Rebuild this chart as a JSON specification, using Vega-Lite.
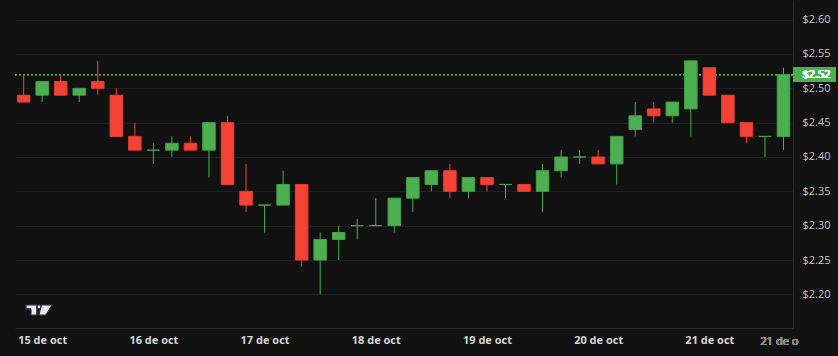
{
  "$schema": "https://vega.github.io/schema/vega-lite/v6.json",
  "width": 778,
  "height": 328,
  "autosize": "none",
  "padding": {"left": 15, "top": 0, "right": 45, "bottom": 28},
  "background": "#111111",
  "config": {
    "view": {"stroke": null},
    "axis": {"title": null, "ticks": false, "domainColor": "#2a2a2a", "labelFont": "Open Sans"}
  },
  "data": {
    "values": [
      {"t": "2024-10-14T20:00:00Z", "open": 2.49, "high": 2.52, "low": 2.48, "close": 2.48},
      {"t": "2024-10-15T00:00:00Z", "open": 2.49, "high": 2.51, "low": 2.48, "close": 2.51},
      {"t": "2024-10-15T04:00:00Z", "open": 2.51, "high": 2.52, "low": 2.49, "close": 2.49},
      {"t": "2024-10-15T08:00:00Z", "open": 2.49, "high": 2.50, "low": 2.48, "close": 2.50},
      {"t": "2024-10-15T12:00:00Z", "open": 2.51, "high": 2.54, "low": 2.49, "close": 2.50},
      {"t": "2024-10-15T16:00:00Z", "open": 2.49, "high": 2.50, "low": 2.43, "close": 2.43},
      {"t": "2024-10-15T20:00:00Z", "open": 2.43, "high": 2.45, "low": 2.41, "close": 2.41},
      {"t": "2024-10-16T00:00:00Z", "open": 2.41, "high": 2.42, "low": 2.39, "close": 2.41},
      {"t": "2024-10-16T04:00:00Z", "open": 2.41, "high": 2.43, "low": 2.40, "close": 2.42},
      {"t": "2024-10-16T08:00:00Z", "open": 2.42, "high": 2.43, "low": 2.41, "close": 2.41},
      {"t": "2024-10-16T12:00:00Z", "open": 2.41, "high": 2.45, "low": 2.37, "close": 2.45},
      {"t": "2024-10-16T16:00:00Z", "open": 2.45, "high": 2.46, "low": 2.36, "close": 2.36},
      {"t": "2024-10-16T20:00:00Z", "open": 2.35, "high": 2.39, "low": 2.32, "close": 2.33},
      {"t": "2024-10-17T00:00:00Z", "open": 2.33, "high": 2.33, "low": 2.29, "close": 2.33},
      {"t": "2024-10-17T04:00:00Z", "open": 2.33, "high": 2.38, "low": 2.33, "close": 2.36},
      {"t": "2024-10-17T08:00:00Z", "open": 2.36, "high": 2.36, "low": 2.24, "close": 2.25},
      {"t": "2024-10-17T12:00:00Z", "open": 2.25, "high": 2.29, "low": 2.20, "close": 2.28},
      {"t": "2024-10-17T16:00:00Z", "open": 2.28, "high": 2.30, "low": 2.25, "close": 2.29},
      {"t": "2024-10-17T20:00:00Z", "open": 2.30, "high": 2.31, "low": 2.28, "close": 2.30},
      {"t": "2024-10-18T00:00:00Z", "open": 2.30, "high": 2.34, "low": 2.30, "close": 2.30},
      {"t": "2024-10-18T04:00:00Z", "open": 2.30, "high": 2.34, "low": 2.29, "close": 2.34},
      {"t": "2024-10-18T08:00:00Z", "open": 2.34, "high": 2.37, "low": 2.32, "close": 2.37},
      {"t": "2024-10-18T12:00:00Z", "open": 2.36, "high": 2.38, "low": 2.35, "close": 2.38},
      {"t": "2024-10-18T16:00:00Z", "open": 2.38, "high": 2.39, "low": 2.34, "close": 2.35},
      {"t": "2024-10-18T20:00:00Z", "open": 2.35, "high": 2.37, "low": 2.34, "close": 2.37},
      {"t": "2024-10-19T00:00:00Z", "open": 2.37, "high": 2.37, "low": 2.35, "close": 2.36},
      {"t": "2024-10-19T04:00:00Z", "open": 2.36, "high": 2.36, "low": 2.34, "close": 2.36},
      {"t": "2024-10-19T08:00:00Z", "open": 2.36, "high": 2.36, "low": 2.35, "close": 2.35},
      {"t": "2024-10-19T12:00:00Z", "open": 2.35, "high": 2.39, "low": 2.32, "close": 2.38},
      {"t": "2024-10-19T16:00:00Z", "open": 2.38, "high": 2.41, "low": 2.37, "close": 2.40},
      {"t": "2024-10-19T20:00:00Z", "open": 2.40, "high": 2.41, "low": 2.39, "close": 2.40},
      {"t": "2024-10-20T00:00:00Z", "open": 2.40, "high": 2.41, "low": 2.39, "close": 2.39},
      {"t": "2024-10-20T04:00:00Z", "open": 2.39, "high": 2.43, "low": 2.36, "close": 2.43},
      {"t": "2024-10-20T08:00:00Z", "open": 2.44, "high": 2.48, "low": 2.43, "close": 2.46},
      {"t": "2024-10-20T12:00:00Z", "open": 2.47, "high": 2.48, "low": 2.45, "close": 2.46},
      {"t": "2024-10-20T16:00:00Z", "open": 2.46, "high": 2.48, "low": 2.45, "close": 2.48},
      {"t": "2024-10-20T20:00:00Z", "open": 2.47, "high": 2.54, "low": 2.43, "close": 2.54},
      {"t": "2024-10-21T00:00:00Z", "open": 2.53, "high": 2.53, "low": 2.49, "close": 2.49},
      {"t": "2024-10-21T04:00:00Z", "open": 2.49, "high": 2.49, "low": 2.45, "close": 2.45},
      {"t": "2024-10-21T08:00:00Z", "open": 2.45, "high": 2.45, "low": 2.42, "close": 2.43},
      {"t": "2024-10-21T12:00:00Z", "open": 2.43, "high": 2.43, "low": 2.40, "close": 2.43},
      {"t": "2024-10-21T16:00:00Z", "open": 2.43, "high": 2.53, "low": 2.41, "close": 2.52}
    ]
  },
  "encoding": {
    "x": {
      "field": "t",
      "type": "temporal",
      "scale": {"type": "utc", "padding": 0, "domain": [{"year": 2024, "month": 10, "date": 14, "hours": 18, "minutes": 8, "utc": true}, {"year": 2024, "month": 10, "date": 21, "hours": 18, "minutes": 3, "utc": true}]},
      "axis": {
        "values": [
          {"year": 2024, "month": 10, "date": 15, "utc": true},
          {"year": 2024, "month": 10, "date": 16, "utc": true},
          {"year": 2024, "month": 10, "date": 17, "utc": true},
          {"year": 2024, "month": 10, "date": 18, "utc": true},
          {"year": 2024, "month": 10, "date": 19, "utc": true},
          {"year": 2024, "month": 10, "date": 20, "utc": true},
          {"year": 2024, "month": 10, "date": 21, "utc": true}
        ],
        "labelExpr": "utcFormat(datum.value, '%-d') + ' de oct'",
        "labelFontSize": 11,
        "labelPadding": 6,
        "labelOverlap": false,
        "labelFlush": false,
        "grid": false,
        "labelColor": "#d6d6d6",
        "labelFontWeight": "bold"
      }
    },
    "y": {
      "type": "quantitative",
      "scale": {"domain": [2.151, 2.6286], "zero": false, "nice": false}
    }
  },
  "layer": [
    {
      "mark": {"type": "rule", "color": "#4caf50", "strokeDash": [2, 2], "opacity": 0.6, "strokeWidth": 1},
      "encoding": {
        "x": null,
        "y": {
          "datum": 2.52,
          "type": "quantitative",
          "scale": {"domain": [2.151, 2.6286], "zero": false, "nice": false},
          "axis": {
            "orient": "right",
            "values": [2.2, 2.25, 2.3, 2.35, 2.4, 2.45, 2.5, 2.55, 2.6],
            "format": "$.2f",
            "labelFontSize": 11,
            "labelPadding": 9,
            "labelColor": "#c4c4c4",
            "grid": true,
            "gridColor": "#1f1f1f",
            "gridWidth": 1
          }
        }
      }
    },
    {
      "mark": {"type": "rule", "strokeWidth": 1},
      "encoding": {
        "y": {"field": "low", "type": "quantitative"},
        "y2": {"field": "high"},
        "color": {"condition": {"test": "datum.close >= datum.open", "value": "#4caf50"}, "value": "#f44336"}
      }
    },
    {
      "mark": {"type": "bar", "size": 12.5, "strokeWidth": 1},
      "encoding": {
        "y": {"field": "open", "type": "quantitative"},
        "y2": {"field": "close"},
        "fill": {"condition": {"test": "datum.close >= datum.open", "value": "#4caf50"}, "value": "#f44336"},
        "stroke": {"condition": {"test": "datum.close >= datum.open", "value": "#45a049"}, "value": "#e53d32"}
      }
    },
    {
      "mark": {"type": "point", "filled": true, "opacity": 1, "shape": "M0.362,-0.278H2V0.278H0.362Z", "size": 2756, "color": "#4caf50"},
      "encoding": {
        "x": {"datum": {"year": 2024, "month": 10, "date": 21, "hours": 16, "utc": true}, "type": "temporal"},
        "y": {"datum": 2.52, "type": "quantitative"}
      }
    },
    {
      "mark": {"type": "text", "align": "left", "baseline": "middle", "dx": 19, "font": "Open Sans", "fontSize": 11, "color": "#ffffff"},
      "encoding": {
        "x": {"datum": {"year": 2024, "month": 10, "date": 21, "hours": 16, "utc": true}, "type": "temporal"},
        "y": {"datum": 2.52, "type": "quantitative"},
        "text": {"value": "$2.52"}
      }
    },
    {
      "mark": {"type": "text", "align": "left", "baseline": "middle", "dx": -23, "font": "Open Sans", "fontSize": 11, "color": "#8c8c8c", "limit": 39, "ellipsis": "\u200b"},
      "encoding": {
        "x": {"datum": {"year": 2024, "month": 10, "date": 21, "hours": 16, "utc": true}, "type": "temporal"},
        "y": {"datum": 2.131, "type": "quantitative"},
        "text": {"value": "21 de oct"}
      }
    },
    {
      "mark": {"type": "point", "filled": true, "opacity": 1, "size": 676, "color": "#e8e8e8", "stroke": "#262b3a", "strokeWidth": 1,
        "shape": "M-1,-0.385H-0.18V0.385H-0.615V-0.1H-1Z M-0.14,-0.25a0.14,0.14 0 1,0 0.28,0a0.14,0.14 0 1,0 -0.28,0Z M0.18,-0.385H1L0.52,0.385H0Z"},
      "encoding": {
        "x": {"datum": {"year": 2024, "month": 10, "date": 14, "hours": 23, "minutes": 19, "utc": true}, "type": "temporal"},
        "y": {"datum": 2.1772, "type": "quantitative"}
      }
    }
  ]
}
